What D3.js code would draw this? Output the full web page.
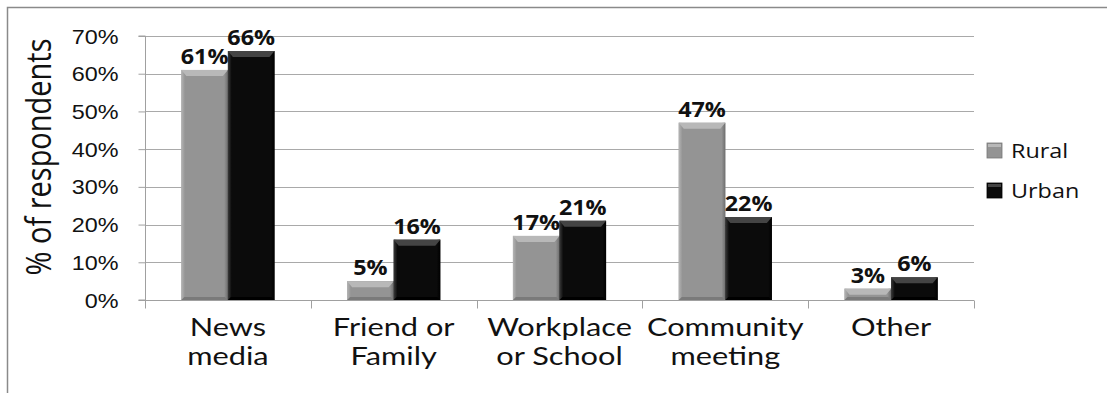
<!DOCTYPE html>
<html>
<head>
<meta charset="utf-8">
<script src="https://cdn.jsdelivr.net/npm/d3@7"></script>
<style>
  html, body { margin: 0; padding: 0; background: #fff; }
  svg { display: block; font-family: "Open Sans", "Noto Sans", sans-serif; }
</style>
</head>
<body>
<svg id="chart" width="1107" height="393"></svg>
<script>
// Where respondents heard about it, by area
const categories = [["News", "media"], ["Friend or", "Family"], ["Workplace", "or School"], ["Community", "meeting"], ["Other"]];
const seriesNames = ["Rural", "Urban"];
const rural = [61, 5, 17, 47, 3];
const urban = [66, 16, 21, 22, 6];
const yTicks = [0, 10, 20, 30, 40, 50, 60, 70];
const colors = { Rural: "#949494", Urban: "#0b0b0b" };

const svg = d3.select("#chart");
const W = 1107, H = 393;
const x0 = 145, x1 = 974, y0 = 300, y1 = 36;
const SX = 1.17; // horizontal widening of the text faces

// outer frame (top and left edges)
svg.append("path").attr("d", `M7.5,${H} V7.5 H${W}`)
  .attr("fill", "none").attr("stroke", "#8a8a8a").attr("stroke-width", 1.5);

const x = d3.scaleBand().domain(d3.range(categories.length)).range([x0, x1]);
const inner = d3.scaleBand().domain(seriesNames).range([0, x.bandwidth()]).paddingOuter(0.78).paddingInner(0);
const y = d3.scaleLinear().domain([0, 70]).range([y0, y1]);

// horizontal gridlines
svg.append("g").selectAll("line").data(yTicks.slice(1)).join("line")
  .attr("x1", x0).attr("x2", x1)
  .attr("y1", d => Math.round(y(d)) + 0.5).attr("y2", d => Math.round(y(d)) + 0.5)
  .attr("stroke", "#a9a9a9").attr("stroke-width", 1);

// y axis
const yAxis = d3.axisLeft(y).tickValues(yTicks).tickFormat(d => d + "%").tickSize(7);
const gy = svg.append("g").attr("transform", `translate(${x0 + 0.5},0)`).call(yAxis);
gy.select(".domain").attr("stroke", "#a0a0a0").attr("d", `M-7,${y1}H0V${y0}H-7`);
gy.selectAll(".tick line").attr("stroke", "#a0a0a0");
gy.selectAll(".tick text")
  .attr("x", null).attr("dy", "0.35em")
  .attr("transform", `translate(-27,0) scale(${SX},1)`)
  .attr("font-size", 20).attr("fill", "#111");

// x axis: baseline, group separators and two-line category names
const gx = svg.append("g").attr("transform", `translate(0,${Math.round(y0) + 0.5})`);
gx.append("line").attr("x1", x0).attr("x2", x1).attr("stroke", "#a0a0a0");
gx.selectAll("line.tk").data(d3.range(categories.length + 1)).join("line").attr("class", "tk")
  .attr("x1", i => Math.round(x0 + i * x.bandwidth()) + 0.5)
  .attr("x2", i => Math.round(x0 + i * x.bandwidth()) + 0.5)
  .attr("y1", 0).attr("y2", 8).attr("stroke", "#a0a0a0");
const catLines = [];
categories.forEach((c, i) => c.forEach((t, j) => catLines.push({ i, j, t })));
gx.selectAll("text").data(catLines).join("text")
  .attr("text-anchor", "middle").attr("font-size", 25).attr("fill", "#111")
  .attr("font-family", "Lato, 'Open Sans', sans-serif")
  .attr("transform", d => `translate(${x(d.i) + x.bandwidth() / 2},${35 + d.j * 29}) scale(1.23,1)`)
  .text(d => d.t);

// y axis title
svg.append("text").attr("transform", `translate(51,157) rotate(-90) scale(1,${SX})`)
  .attr("text-anchor", "middle").attr("font-size", 29).attr("fill", "#111")
  .text("% of respondents");

// bevel gradients
const defs = svg.append("defs");
function bevel(id, light, dark) {
  const g = defs.append("linearGradient").attr("id", id).attr("x1", 0).attr("x2", 1);
  g.append("stop").attr("offset", 0).attr("stop-color", light);
  g.append("stop").attr("offset", 0.08).attr("stop-color", light).attr("stop-opacity", 0);
  g.append("stop").attr("offset", 0.92).attr("stop-color", dark).attr("stop-opacity", 0);
  g.append("stop").attr("offset", 1).attr("stop-color", dark);
}
bevel("bevR", "#b4b4b4", "#6e6e6e");
bevel("bevU", "#3a3a3a", "#000");

const rows = [];
categories.forEach((c, i) => {
  rows.push({ i, s: "Rural", v: rural[i] });
  rows.push({ i, s: "Urban", v: urban[i] });
});

const bars = svg.append("g").selectAll("g").data(rows).join("g")
  .attr("transform", d => `translate(${x(d.i) + inner(d.s)},${y(d.v)})`);
const bw = inner.bandwidth();
bars.append("rect").attr("width", bw).attr("height", d => y0 - y(d.v))
  .attr("fill", d => colors[d.s]);
bars.append("rect").attr("width", bw).attr("height", d => y0 - y(d.v))
  .attr("fill", d => d.s === "Rural" ? "url(#bevR)" : "url(#bevU)");
// top bevel strip
bars.append("path")
  .attr("d", d => { const h = Math.min(6, y0 - y(d.v)); return `M0,0H${bw}L${bw - 5},${h}H5Z`; })
  .attr("fill", d => d.s === "Rural" ? "#b8b8b8" : "#444");
// bottom shade
bars.append("path")
  .attr("d", d => { const h = y0 - y(d.v); const e = Math.min(3, h); return `M0,${h}H${bw}L${bw - 3},${h - e}H3Z`; })
  .attr("fill", d => d.s === "Rural" ? "#7a7a7a" : "#000");

// value labels
svg.append("g").selectAll("text").data(rows).join("text")
  .attr("transform", d => `translate(${x(d.i) + inner(d.s) + bw / 2},${y(d.v) - 6}) scale(${SX * 0.95},1)`)
  .attr("text-anchor", "middle").attr("font-size", 21).attr("font-weight", "bold").attr("fill", "#111")
  .text(d => d.v + "%");

// legend
const lg = svg.append("g").attr("transform", "translate(987,143)");
const li = lg.selectAll("g").data(seriesNames).join("g")
  .attr("transform", (d, i) => `translate(0,${i * 40})`);
li.append("rect").attr("width", 15).attr("height", 15).attr("fill", d => colors[d])
  .attr("stroke", d => d === "Rural" ? "#777" : "#000").attr("stroke-width", 0.8);
li.append("rect").attr("x", 1).attr("y", 1).attr("width", 13).attr("height", 3)
  .attr("fill", d => d === "Rural" ? "#b8b8b8" : "#444");
li.append("text").attr("transform", `translate(24,15) scale(${SX},1)`)
  .attr("font-size", 20).attr("fill", "#111").text(d => d);
</script>
</body>
</html>
